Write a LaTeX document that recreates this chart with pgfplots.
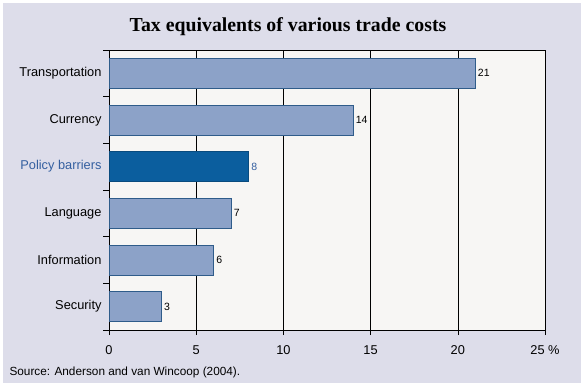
\documentclass[border=0pt]{standalone}
\usepackage{pgfplots}
\pgfplotsset{compat=1.18}
\usepackage{fontspec}
\setmainfont{Liberation Sans}
\newfontfamily\titlefont{Liberation Serif}
\definecolor{bgl}{RGB}{221,221,234}
\definecolor{plotbg}{RGB}{247,246,244}
\definecolor{barfill}{RGB}{140,162,200}
\definecolor{barline}{RGB}{47,92,138}
\definecolor{polfill}{RGB}{11,94,158}
\definecolor{poltext}{RGB}{52,95,160}
\begin{document}
\begin{tikzpicture}[x=1pt,y=1pt]
\fill[white] (0,0) rectangle (586,390);
\fill[bgl] (3,7) rectangle (581,387);
\node[font=\titlefont\bfseries\fontsize{19.8}{22}\selectfont] at (288,363) {Tax equivalents of various trade costs};
\node[anchor=west,font=\fontsize{11.8}{13}\selectfont] at (6,18) {Source: Anderson and van Wincoop (2004).};
\begin{axis}[
  at={(109pt,60pt)}, anchor=south west,
  scale only axis, width=436pt, height=280pt,
  xbar, bar width=30pt, bar shift=0pt,
  xmin=0, xmax=25,
  ymin=-0.5, ymax=5.5, y dir=reverse,
  axis background/.style={fill=plotbg},
  axis line style={black, line width=0.6pt},
  xtick={0,5,10,15,20,25},
  xticklabels={0,5,10,15,20,25 \%},
  xmajorgrids, major grid style={black, line width=0.6pt},
  x tick style={black, line width=0.6pt},
  xtick pos=bottom, xtick align=outside, major tick length=5pt,
  ytick={0,1,2,3,4,5},
  yticklabels={Transportation,Currency,\textcolor{poltext}{Policy barriers},Language,Information,Security},
  minor ytick={-0.5,0.5,1.5,2.5,3.5,4.5,5.5},
  ytick pos=left, ytick align=outside,
  y tick style={draw=none},
  minor y tick style={draw=black, line width=0.6pt},
  minor tick length=6pt,
  ticklabel style={font=\fontsize{12.8}{14}\selectfont},
  xticklabel style={yshift=-7pt},
  yticklabel style={xshift=1pt},
  /pgf/number format/assume math mode=true,
  nodes near coords,
  every node near coord/.append style={font=\fontsize{10.5}{12}\selectfont, anchor=west, xshift=-1pt},
]
\addplot[fill=barfill, draw=barline, line width=0.8pt] coordinates {(21,0) (14,1) (7,3) (6,4) (3,5)};
\addplot[fill=polfill, draw=polfill!80!black, line width=0.8pt, every node near coord/.append style={text=poltext}] coordinates {(8,2)};
\end{axis}
\end{tikzpicture}
\end{document}
